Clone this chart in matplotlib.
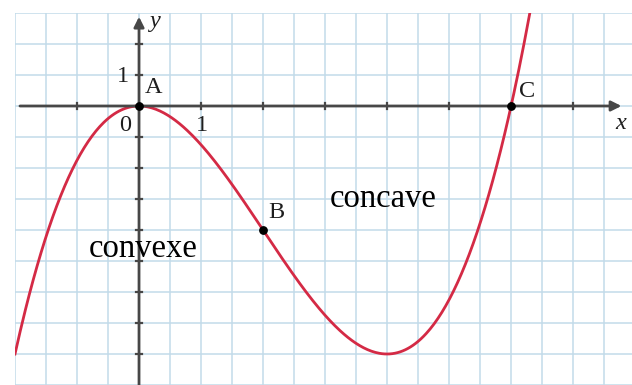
import numpy as np
import matplotlib.pyplot as plt

# cubic f(x) = x^3/4 - 3x^2/2, highest degree first
coeffs = [0.25, -1.5, 0.0, 0.0]
x_span = (-2.0, 6.4)

point_names = ["A", "B", "C"]
point_x = [0.0, 2.0, 6.0]
point_y = [0.0, -4.0, 0.0]

region_labels = ["convexe", "concave"]

xlim = (-2.0, 7.95)
ylim = (-9.0, 3.0)

fig = plt.figure(figsize=(6.32, 3.85), dpi=100)
ax = fig.add_axes([15 / 632, 0.0, 617 / 632, 372 / 385])
ax.set_xlim(*xlim)
ax.set_ylim(*ylim)

# squared paper
ax.set_xticks(np.arange(-2.0, 8.0, 0.5))
ax.set_yticks(np.arange(-9, 4, 1))
ax.grid(True, color="#c2dbea", linewidth=1.1)
ax.tick_params(length=0, labelbottom=False, labelleft=False)
for s in ax.spines.values():
    s.set_visible(False)

axis_color = "#474747"
ax.annotate("", xy=(7.78, 0), xytext=(-1.92, 0),
            arrowprops=dict(arrowstyle="-|>", color=axis_color, lw=2,
                            mutation_scale=15, shrinkA=0, shrinkB=0))
ax.annotate("", xy=(0, 2.88), xytext=(0, -9.2),
            arrowprops=dict(arrowstyle="-|>", color=axis_color, lw=2,
                            mutation_scale=15, shrinkA=0, shrinkB=0))

# small ticks: one unit on x, one unit on y
for tx in range(-1, 8):
    ax.plot([tx, tx], [-0.1, 0.1], color=axis_color, lw=1.6)
for ty in range(-8, 3):
    ax.plot([-0.05, 0.05], [ty, ty], color=axis_color, lw=1.6)

xs = np.linspace(*x_span, 400)
ax.plot(xs, np.polyval(coeffs, xs), color="#d42a45", lw=2)

ax.scatter(point_x, point_y, s=28, color="black", zorder=5)

serif = "Liberation Serif"
small = dict(family=serif, fontsize=17.5, color="#1e1e1e")
ax.text(-0.26, 0.96, "1", ha="center", va="center", **small)
ax.text(-0.23, -0.62, "0", ha="center", va="center", **small)
ax.text(1.02, -0.62, "1", ha="center", va="center", **small)
ax.text(0.25, 2.72, "y", ha="center", va="center", style="italic", **small)
ax.text(7.76, -0.58, "x", ha="center", va="center", style="italic", **small)

offsets = [(0.23, 0.6), (0.21, 0.58), (0.26, 0.47)]
for name, px, py, (dx, dy) in zip(point_names, point_x, point_y, offsets):
    ax.text(px + dx, py + dy, name, ha="center", va="center", **small)

ax.text(0.07, -4.87, region_labels[0], ha="center", va="baseline",
        family=serif, fontsize=23.5, color="black")
ax.text(3.94, -3.26, region_labels[1], ha="center", va="baseline",
        family=serif, fontsize=23.5, color="black")

fig.savefig("out.png", dpi=100)
